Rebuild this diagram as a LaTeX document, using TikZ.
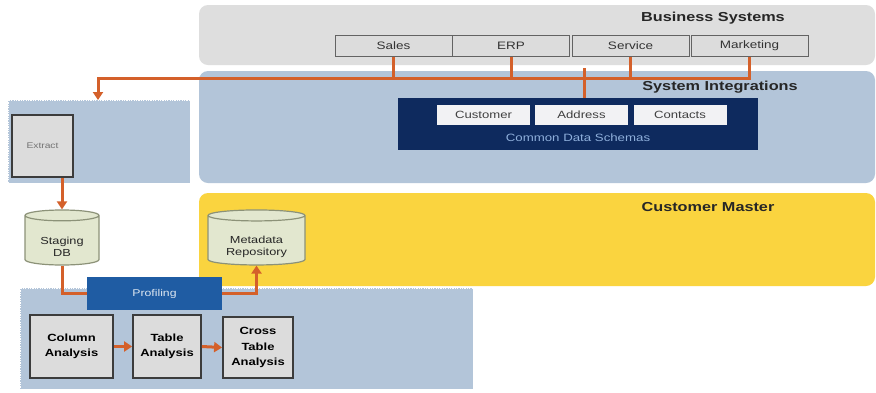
\documentclass[tikz,border=0pt]{standalone}
\usepackage{fontspec}
\setmainfont{Liberation Sans}
\newfontfamily\widefont[FakeStretch=1.25]{Liberation Sans}
\usetikzlibrary{shapes.geometric,arrows.meta}

\definecolor{panelgray}{HTML}{DEDEDE}
\definecolor{panelblue}{HTML}{B3C5D9}
\definecolor{paneltan}{HTML}{FAD43F}
\definecolor{navy}{HTML}{0E2A5E}
\definecolor{profblue}{HTML}{1F5CA3}
\definecolor{boxgray}{HTML}{DCDCDC}
\definecolor{boxline}{HTML}{3C3C3C}
\definecolor{dbfill}{HTML}{E2E7CF}
\definecolor{dbline}{HTML}{8C9278}
\definecolor{wire}{HTML}{D4602A}
\definecolor{schemafill}{HTML}{F2F2F4}
\definecolor{schematext}{HTML}{8FB0DC}

% a tall invisible strut that lowers the text inside a cylinder
\newcommand{\dbdrop}{\rule{0pt}{20pt}}

\tikzset{
  title/.style={font=\widefont\bfseries\fontsize{13}{15}\selectfont, text=black!85, inner sep=0pt},
  sysbox/.style={draw=boxline!80, line width=1pt, fill=boxgray, minimum width=117pt, minimum height=21pt, inner sep=0pt, font=\widefont\fontsize{10.8}{12}\selectfont, text=black!80},
  schemabox/.style={fill=schemafill, minimum width=93pt, minimum height=20pt, inner sep=0pt, font=\widefont\fontsize{10.5}{12}\selectfont, text=black!75},
  stagebox/.style={draw=boxline, line width=1.8pt, fill=boxgray, inner sep=0pt, align=center, font=\widefont\bfseries\fontsize{10.4}{15.5}\selectfont},
  db/.style={cylinder, shape border rotate=90, aspect=0.25, draw=dbline, line width=1.2pt, fill=dbfill, inner sep=0pt, align=center, font=\widefont\fontsize{10.2}{12.5}\selectfont, text=black!85},
  wireline/.style={draw=wire, line width=3pt},
  wirearrow/.style={wireline, -{Triangle[width=10pt,length=8pt]}},
  dotedge/.style={draw=white, line width=0.8pt, dash pattern=on 1.2pt off 1.2pt},
}

\begin{document}
\begin{tikzpicture}[x=1pt,y=-1pt]
\useasboundingbox (0,0) rectangle (876,392);
\fill[white] (0,0) rectangle (876,392);

% ---------- panels ----------
\fill[panelgray, rounded corners=9pt] (199,5) rectangle (875,65);
\fill[panelblue, rounded corners=9pt] (199,71) rectangle (875,183);
\fill[paneltan, rounded corners=9pt] (199,193) rectangle (875,286);
\path[fill=panelblue, dotedge] (8,100) rectangle (190,183);
\path[fill=panelblue, dotedge] (20,288) rectangle (473,389);

% ---------- titles ----------
\node[title] (bstitle) at (713,18) {Business Systems};
\node[title] (sititle) at (720,87) {System Integrations};
\node[title] (cmtitle) at (708,207) {Customer Master};

% ---------- business systems ----------
\node[sysbox] (sales)     at (393.5,45.5) {Sales};
\node[sysbox] (erp)       at (511,45.5)   {ERP};
\node[sysbox] (service)   at (630.5,45.5) {Service};
\node[sysbox] (marketing) at (749.5,45.5) {Marketing};

% ---------- common data schemas ----------
\node[fill=navy, minimum width=360pt, minimum height=52pt, inner sep=0pt] (cds) at (578,124) {};
\node[schemabox] (customer) at (483.5,115) {Customer};
\node[schemabox] (address)  at (581.5,115) {Address};
\node[schemabox] (contacts) at (680,115)   {Contacts};
\node[font=\widefont\fontsize{10.6}{12}\selectfont, text=schematext, inner sep=0pt] (cdslabel) at (578,138) {Common Data Schemas};

% ---------- extract ----------
\node[draw=boxline, line width=1.8pt, fill=boxgray, minimum width=61pt, minimum height=62pt, inner sep=0pt,
      font=\widefont\fontsize{8.2}{9}\selectfont, text=black!55] (extract) at (42.5,146) {Extract};
\coordinate (extracttop) at (98,100);

% ---------- repositories ----------
\node[db, minimum width=74pt, minimum height=55pt] (staging)  at (62,240.5)  {\dbdrop Staging\\DB};
\node[db, aspect=0.18, minimum width=97pt, minimum height=55pt] (metadata) at (256.5,240.5) {\dbdrop Metadata\\Repository};

% ---------- profiling ----------
\node[fill=profblue, minimum width=135pt, minimum height=33pt, inner sep=0pt,
      font=\widefont\fontsize{9.8}{11}\selectfont, text=white!85!profblue] (profiling) at (154.5,293.5) {Profiling};
\node[stagebox, minimum width=83pt, minimum height=63pt] (colan)   at (71.5,346.5) {Column\\Analysis};
\node[stagebox, minimum width=68pt, minimum height=63pt] (taban)   at (167,346.5)  {Table\\Analysis};
\node[stagebox, minimum width=70pt, minimum height=61pt] (crossan) at (258,347.5)  {Cross\\Table\\Analysis};

% ---------- connectors ----------
\coordinate (busleft) at (98,78);
\draw[wirearrow] (marketing.south) |- (busleft) -- (extracttop);
\draw[wireline] (sales.south)   -- (sales.south |- busleft);
\draw[wireline] (erp.south)     -- (erp.south |- busleft);
\draw[wireline] (service.south) -- (service.south |- busleft);
\coordinate (addrtap) at (584,68);
\draw[wireline] (addrtap) -- (addrtap |- cds.north);

\draw[wirearrow] (staging.north |- extract.south) -- (staging.north);
\draw[wireline] (staging.south) |- (profiling.west);
\draw[wirearrow] (profiling.east) -| (metadata.south);
\draw[wirearrow] (colan.east) -- (taban.west);
\draw[wirearrow] (taban.east) -- (crossan.west);
\end{tikzpicture}
\end{document}
